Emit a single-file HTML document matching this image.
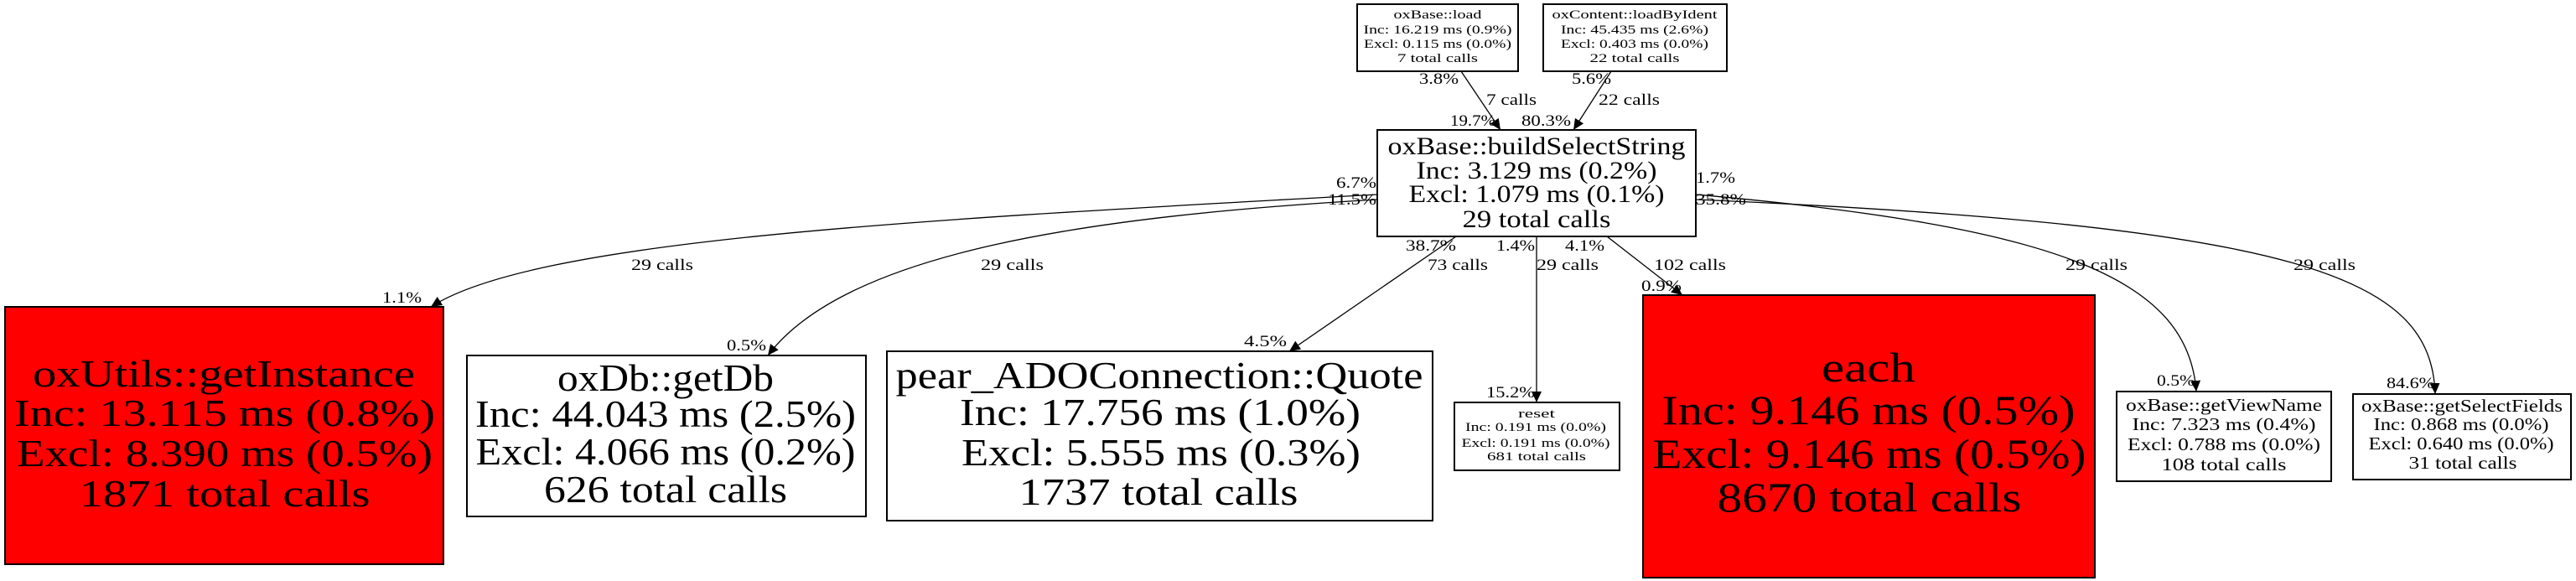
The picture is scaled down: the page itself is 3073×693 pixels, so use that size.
<!DOCTYPE html>
<html><head><meta charset="utf-8"><style>
html,body{margin:0;padding:0;background:#fff;}
svg{display:block;}
text{font-family:"Liberation Serif","DejaVu Serif",serif;fill:#000;}
</style></head><body>
<svg width="3073" height="693" viewBox="0 0 3073 693" xmlns="http://www.w3.org/2000/svg">
<defs>
<marker id="a" markerUnits="userSpaceOnUse" markerWidth="14" markerHeight="12" refX="13" refY="6" orient="auto">
<path d="M0,0 L13,6 L0,12 z" fill="#000"/>
</marker>
</defs>
<g fill="none" stroke="#000" stroke-width="1.3">
<line x1="1743" y1="85" x2="1790" y2="155" marker-end="url(#a)"/>
<line x1="1922" y1="85" x2="1877" y2="155" marker-end="url(#a)"/>
<path d="M1643,232 C1100,262 640,285 514,366" marker-end="url(#a)"/>
<path d="M1643,238 C1300,258 1010,300 916,424" marker-end="url(#a)"/>
<line x1="1737" y1="282" x2="1538" y2="419" marker-end="url(#a)"/>
<line x1="1833" y1="282" x2="1833" y2="480" marker-end="url(#a)"/>
<line x1="1917" y1="282" x2="2007" y2="352" marker-end="url(#a)"/>
<path d="M2023,232 C2450,270 2610,330 2620,467" marker-end="url(#a)"/>
<path d="M2023,238 C2750,270 2900,330 2905,470" marker-end="url(#a)"/>
</g>
<g stroke="#000" stroke-width="2">
<rect x="1619" y="5" width="192" height="80" fill="#fff"/>
<rect x="1841" y="5" width="219" height="80" fill="#fff"/>
<rect x="1643" y="155" width="380" height="127" fill="#fff"/>
<rect x="6" y="366" width="523" height="307" fill="#f00"/>
<rect x="557" y="424" width="476" height="192" fill="#fff"/>
<rect x="1058" y="419" width="651" height="202" fill="#fff"/>
<rect x="1735" y="480" width="197" height="81" fill="#fff"/>
<rect x="1960" y="352" width="539" height="337" fill="#f00"/>
<rect x="2525" y="467" width="256" height="107" fill="#fff"/>
<rect x="2807" y="470" width="260" height="102" fill="#fff"/>
</g>
<g text-anchor="middle">
<g font-size="15">
<text x="1715" y="22" textLength="105" lengthAdjust="spacingAndGlyphs">oxBase::load</text>
<text x="1715" y="40" textLength="177" lengthAdjust="spacingAndGlyphs">Inc: 16.219 ms (0.9%)</text>
<text x="1715" y="57" textLength="176" lengthAdjust="spacingAndGlyphs">Excl: 0.115 ms (0.0%)</text>
<text x="1715" y="74" textLength="96" lengthAdjust="spacingAndGlyphs">7 total calls</text>
<text x="1950" y="22" textLength="197" lengthAdjust="spacingAndGlyphs">oxContent::loadByIdent</text>
<text x="1950" y="40" textLength="176" lengthAdjust="spacingAndGlyphs">Inc: 45.435 ms (2.6%)</text>
<text x="1950" y="57" textLength="176" lengthAdjust="spacingAndGlyphs">Excl: 0.403 ms (0.0%)</text>
<text x="1950" y="74" textLength="107" lengthAdjust="spacingAndGlyphs">22 total calls</text>
</g>
<g font-size="30">
<text x="1833" y="184" textLength="355" lengthAdjust="spacingAndGlyphs">oxBase::buildSelectString</text>
<text x="1833" y="213" textLength="287" lengthAdjust="spacingAndGlyphs">Inc: 3.129 ms (0.2%)</text>
<text x="1833" y="241" textLength="305" lengthAdjust="spacingAndGlyphs">Excl: 1.079 ms (0.1%)</text>
<text x="1833" y="271" textLength="177" lengthAdjust="spacingAndGlyphs">29 total calls</text>
</g>
<g font-size="46">
<text x="267" y="461" textLength="456" lengthAdjust="spacingAndGlyphs">oxUtils::getInstance</text>
<text x="268" y="508" textLength="502" lengthAdjust="spacingAndGlyphs">Inc: 13.115 ms (0.8%)</text>
<text x="268" y="556" textLength="496" lengthAdjust="spacingAndGlyphs">Excl: 8.390 ms (0.5%)</text>
<text x="268" y="604" textLength="347" lengthAdjust="spacingAndGlyphs">1871 total calls</text>
<text x="794" y="466" textLength="258" lengthAdjust="spacingAndGlyphs">oxDb::getDb</text>
<text x="794" y="509" textLength="454" lengthAdjust="spacingAndGlyphs">Inc: 44.043 ms (2.5%)</text>
<text x="794" y="554" textLength="453" lengthAdjust="spacingAndGlyphs">Excl: 4.066 ms (0.2%)</text>
<text x="794" y="599" textLength="290" lengthAdjust="spacingAndGlyphs">626 total calls</text>
<text x="1383" y="463" textLength="629" lengthAdjust="spacingAndGlyphs">pear_ADOConnection::Quote</text>
<text x="1384" y="507" textLength="478" lengthAdjust="spacingAndGlyphs">Inc: 17.756 ms (1.0%)</text>
<text x="1385" y="555" textLength="476" lengthAdjust="spacingAndGlyphs">Excl: 5.555 ms (0.3%)</text>
<text x="1382" y="602" textLength="333" lengthAdjust="spacingAndGlyphs">1737 total calls</text>
</g>
<g font-size="50">
<text x="2229" y="455" textLength="112" lengthAdjust="spacingAndGlyphs">each</text>
<text x="2229" y="506" textLength="493" lengthAdjust="spacingAndGlyphs">Inc: 9.146 ms (0.5%)</text>
<text x="2230" y="558" textLength="517" lengthAdjust="spacingAndGlyphs">Excl: 9.146 ms (0.5%)</text>
<text x="2230" y="610" textLength="363" lengthAdjust="spacingAndGlyphs">8670 total calls</text>
</g>
<g font-size="15">
<text x="1833" y="498" textLength="44" lengthAdjust="spacingAndGlyphs">reset</text>
<text x="1832" y="514" textLength="168" lengthAdjust="spacingAndGlyphs">Inc: 0.191 ms (0.0%)</text>
<text x="1832" y="533" textLength="177" lengthAdjust="spacingAndGlyphs">Excl: 0.191 ms (0.0%)</text>
<text x="1833" y="549" textLength="118" lengthAdjust="spacingAndGlyphs">681 total calls</text>
</g>
<g font-size="21">
<text x="2653" y="490" textLength="234" lengthAdjust="spacingAndGlyphs">oxBase::getViewName</text>
<text x="2653" y="513" textLength="219" lengthAdjust="spacingAndGlyphs">Inc: 7.323 ms (0.4%)</text>
<text x="2653" y="537" textLength="230" lengthAdjust="spacingAndGlyphs">Excl: 0.788 ms (0.0%)</text>
<text x="2653" y="561" textLength="149" lengthAdjust="spacingAndGlyphs">108 total calls</text>
<text x="2937" y="491" textLength="240" lengthAdjust="spacingAndGlyphs">oxBase::getSelectFields</text>
<text x="2936" y="513" textLength="209" lengthAdjust="spacingAndGlyphs">Inc: 0.868 ms (0.0%)</text>
<text x="2936" y="536" textLength="221" lengthAdjust="spacingAndGlyphs">Excl: 0.640 ms (0.0%)</text>
<text x="2938" y="559" textLength="129" lengthAdjust="spacingAndGlyphs">31 total calls</text>
</g>
</g>
<g font-size="19" text-anchor="start">
<text x="1693" y="100" textLength="47" lengthAdjust="spacingAndGlyphs">3.8%</text>
<text x="1773" y="125" textLength="60" lengthAdjust="spacingAndGlyphs">7 calls</text>
<text x="1730" y="150" textLength="54" lengthAdjust="spacingAndGlyphs">19.7%</text>
<text x="1815" y="150" textLength="59" lengthAdjust="spacingAndGlyphs">80.3%</text>
<text x="1875" y="100" textLength="47" lengthAdjust="spacingAndGlyphs">5.6%</text>
<text x="1907" y="125" textLength="73" lengthAdjust="spacingAndGlyphs">22 calls</text>
<text x="1594" y="224" textLength="48" lengthAdjust="spacingAndGlyphs">6.7%</text>
<text x="1584" y="244" textLength="58" lengthAdjust="spacingAndGlyphs">11.5%</text>
<text x="2023" y="218" textLength="47" lengthAdjust="spacingAndGlyphs">1.7%</text>
<text x="2023" y="244" textLength="60" lengthAdjust="spacingAndGlyphs">35.8%</text>
<text x="1677" y="299" textLength="60" lengthAdjust="spacingAndGlyphs">38.7%</text>
<text x="1785" y="299" textLength="46" lengthAdjust="spacingAndGlyphs">1.4%</text>
<text x="1867" y="299" textLength="47" lengthAdjust="spacingAndGlyphs">4.1%</text>
<text x="1703" y="322" textLength="72" lengthAdjust="spacingAndGlyphs">73 calls</text>
<text x="1833" y="322" textLength="74" lengthAdjust="spacingAndGlyphs">29 calls</text>
<text x="1973" y="322" textLength="86" lengthAdjust="spacingAndGlyphs">102 calls</text>
<text x="1958" y="347" textLength="48" lengthAdjust="spacingAndGlyphs">0.9%</text>
<text x="753" y="322" textLength="74" lengthAdjust="spacingAndGlyphs">29 calls</text>
<text x="1170" y="322" textLength="75" lengthAdjust="spacingAndGlyphs">29 calls</text>
<text x="2464" y="322" textLength="74" lengthAdjust="spacingAndGlyphs">29 calls</text>
<text x="2736" y="322" textLength="74" lengthAdjust="spacingAndGlyphs">29 calls</text>
<text x="456" y="361" textLength="47" lengthAdjust="spacingAndGlyphs">1.1%</text>
<text x="867" y="418" textLength="47" lengthAdjust="spacingAndGlyphs">0.5%</text>
<text x="1484" y="413" textLength="51" lengthAdjust="spacingAndGlyphs">4.5%</text>
<text x="1773" y="474" textLength="58" lengthAdjust="spacingAndGlyphs">15.2%</text>
<text x="2573" y="460" textLength="45" lengthAdjust="spacingAndGlyphs">0.5%</text>
<text x="2847" y="463" textLength="57" lengthAdjust="spacingAndGlyphs">84.6%</text>
</g>
</svg>
</body></html>
